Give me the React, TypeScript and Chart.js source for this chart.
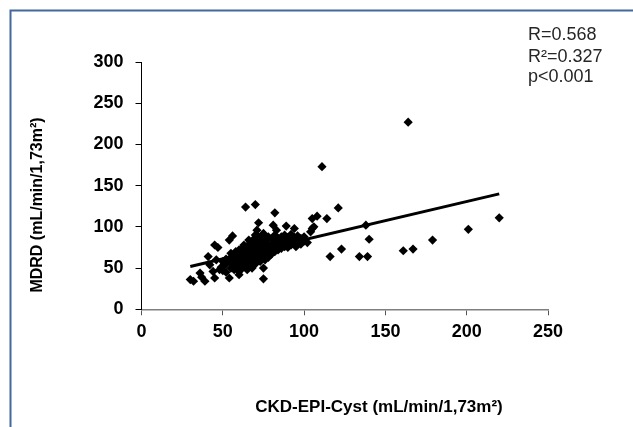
import React, { useEffect, useRef } from "react";
import { Chart, registerables } from "chart.js";

Chart.register(...registerables);

// CKD-EPI-Cyst values (x) and MDRD values (y)
const xValues = [
  164, 111, 64, 70, 82, 121, 114, 105, 108, 72, 81, 89, 94, 105, 104, 106, 83, 71, 98, 102,
  97, 95, 116, 123, 138, 140, 134, 139, 161, 167, 179, 201, 220, 56, 54, 66, 45, 47, 41, 46,
  42, 51, 48, 44, 49, 32, 30, 36, 39, 37, 45, 54, 75, 60, 68, 75,
  50, 50, 50, 52, 52, 52, 55, 55, 55, 55, 57, 57, 57, 57, 58, 58, 58,
  60, 60, 60, 60, 60, 61, 61, 61, 62, 62, 62, 62, 63, 63, 63, 63,
  64, 64, 64, 64, 65, 65, 65, 65, 65, 66, 66, 66, 67, 67, 67, 67,
  68, 68, 68, 68, 69, 69, 69, 69, 70, 70, 70, 70, 70, 71, 71, 71, 71,
  72, 72, 72, 72, 73, 73, 73, 73, 74, 74, 74, 74, 75, 75, 75, 75,
  76, 76, 76, 76, 77, 77, 77, 77, 78, 78, 78, 78, 80, 80, 80, 80,
  82, 82, 82, 82, 84, 84, 84, 86, 86, 86, 88, 88, 88, 90, 90, 90,
  92, 92, 92, 94, 94, 96, 96, 98, 98, 100, 100,
];
const yValues = [
  227, 173, 124, 127, 117, 123, 110, 110, 113, 105, 102, 101, 98, 98, 94, 100, 96, 96, 86, 81,
  84, 76, 64, 73, 102, 85, 64, 64, 71, 73, 84, 97, 111, 89, 84, 84, 78, 75, 64, 60,
  54, 56, 48, 46, 51, 34, 36, 44, 34, 39, 38, 38, 37, 42, 50, 50,
  52, 58, 47, 55, 61, 45, 50, 57, 63, 68, 53, 60, 66, 48, 56, 62, 70,
  52, 58, 64, 72, 46, 55, 61, 67, 50, 59, 65, 74, 57, 63, 69, 78,
  53, 60, 66, 72, 58, 64, 70, 76, 48, 55, 62, 68, 60, 66, 73, 80,
  57, 63, 70, 76, 61, 67, 74, 85, 55, 64, 70, 78, 90, 60, 67, 73, 82,
  63, 70, 77, 88, 58, 66, 72, 80, 62, 69, 75, 84, 65, 71, 78, 92,
  60, 68, 74, 82, 66, 72, 80, 86, 63, 70, 77, 88, 67, 73, 79, 85,
  70, 76, 83, 90, 72, 78, 86, 74, 80, 88, 76, 83, 90, 75, 81, 87,
  78, 85, 91, 80, 87, 82, 89, 79, 85, 83, 88,
];

// Regression line end points
const trendX = [30, 220];
const trendY = [52, 140];

const xTicks = [0, 50, 100, 150, 200, 250];
const yTicks = [0, 50, 100, 150, 200, 250, 300];

const statsLines = ["R=0.568", "R²=0.327", "p<0.001"];
const xTitle = "CKD-EPI-Cyst (mL/min/1,73m²)";
const yTitle = "MDRD (mL/min/1,73m²)";

const FONT = '"Liberation Sans", Arial, sans-serif';

const decorPlugin = {
  id: "decor",
  afterDraw(chart: any) {
    const ctx = chart.ctx as CanvasRenderingContext2D;
    ctx.save();
    // frame (top + left edges)
    ctx.strokeStyle = "#41699c";
    ctx.lineWidth = 2;
    ctx.beginPath();
    ctx.moveTo(10.5, 427);
    ctx.lineTo(10.5, 10.5);
    ctx.lineTo(633, 10.5);
    ctx.stroke();

    // stats
    ctx.fillStyle = "#262626";
    ctx.font = `18px ${FONT}`;
    ctx.textAlign = "left";
    ctx.textBaseline = "alphabetic";
    const baselines = [40, 61.5, 82];
    statsLines.forEach((s, i) => ctx.fillText(s, 528, baselines[i]));

    // axis titles
    ctx.fillStyle = "#000";
    ctx.font = `bold 17px ${FONT}`;
    ctx.textAlign = "center";
    ctx.textBaseline = "middle";
    ctx.fillText(xTitle, 379, 407);
    ctx.font = `bold 16px ${FONT}`;
    ctx.translate(38, 205);
    ctx.rotate(-Math.PI / 2);
    ctx.fillText(yTitle, 0, 0);
    ctx.restore();
  },
};

export default function App() {
  const ref = useRef<HTMLCanvasElement | null>(null);

  useEffect(() => {
    if (!ref.current) return;
    const points = xValues.map((x, i) => ({ x, y: yValues[i] }));
    const trend = trendX.map((x, i) => ({ x, y: trendY[i] }));
    const chart = new Chart(ref.current, {
      type: "scatter",
      data: {
        datasets: [
          {
            type: "line",
            data: trend,
            borderColor: "#000",
            borderWidth: 3,
            pointRadius: 0,
            fill: false,
            showLine: true,
          } as any,
          {
            data: points,
            pointStyle: "rectRot",
            pointRadius: 4.6,
            backgroundColor: "#000",
            borderWidth: 0,
          },
        ],
      },
      options: {
        animation: false,
        responsive: false,
        events: [],
        layout: { padding: { left: 81.5, right: 85, top: 62, bottom: 77.7 } },
        plugins: { legend: { display: false }, tooltip: { enabled: false } },
        scales: {
          x: {
            type: "linear",
            min: 0,
            max: 250,
            afterFit: (s: any) => {
              s.height = 40;
            },
            afterBuildTicks: (s: any) => {
              s.ticks = xTicks.map((v) => ({ value: v }));
            },
            ticks: {
              font: { family: FONT, size: 18, weight: "bold" },
              color: "#000",
              padding: 6,
            },
            grid: {
              drawOnChartArea: false,
              drawTicks: true,
              tickLength: 6,
              tickColor: "#555",
              tickWidth: 1,
            },
            border: { display: true, color: "#7f7f7f", width: 1.5 },
          },
          y: {
            type: "linear",
            min: 0,
            max: 300,
            afterFit: (s: any) => {
              s.width = 60;
            },
            afterBuildTicks: (s: any) => {
              s.ticks = yTicks.map((v) => ({ value: v }));
            },
            ticks: {
              font: { family: FONT, size: 18, weight: "bold" },
              color: "#000",
              padding: 12,
            },
            grid: {
              drawOnChartArea: false,
              drawTicks: true,
              tickLength: 6,
              tickColor: "#000",
              tickWidth: 1,
            },
            border: { display: true, color: "#000", width: 1 },
          },
        },
      },
      plugins: [decorPlugin],
    });
    return () => chart.destroy();
  }, []);

  return (
    <canvas
      ref={ref}
      width={633}
      height={427}
      style={{ position: "fixed", left: 0, top: 0, width: 633, height: 427, background: "#fff" }}
    />
  );
}
